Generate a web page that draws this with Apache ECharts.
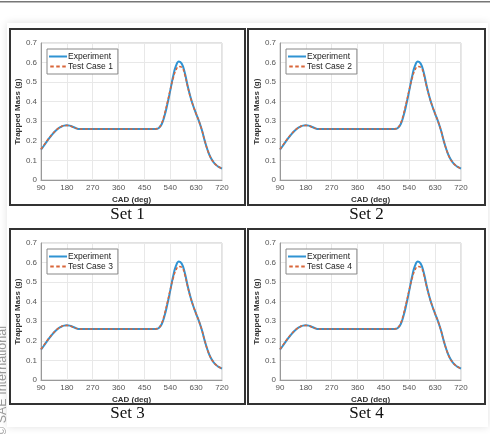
<!DOCTYPE html>
<html>
<head>
<meta charset="utf-8">
<script src="https://cdn.jsdelivr.net/npm/echarts@6/dist/echarts.min.js"></script>
<style>
  html, body { margin: 0; padding: 0; background: #fff; }
  #chart { width: 490px; height: 434px; }
</style>
</head>
<body>
<div id="chart"></div>
<script>
// crank angle (deg)
const cad = [
  90, 100, 110, 120, 130, 140, 150, 160, 170, 180, 190, 200, 210, 220, 230,
  240, 250, 260, 270, 280, 290, 300, 310, 320, 330, 340, 350, 360, 370, 380,
  390, 400, 410, 420, 430, 440, 450, 460, 470, 480, 490, 500, 510, 520, 530,
  540, 550, 560, 570, 580, 590, 600, 610, 620, 630, 640, 650, 660, 670, 680,
  690, 700, 710, 720
];
const experiment = [
  0.155, 0.175, 0.196, 0.216, 0.234, 0.250, 0.263, 0.272, 0.278, 0.280, 0.278, 0.272, 0.266, 0.261, 0.260,
  0.260, 0.260, 0.260, 0.260, 0.260, 0.260, 0.260, 0.260, 0.260, 0.260, 0.260, 0.260, 0.260, 0.260, 0.260,
  0.260, 0.260, 0.260, 0.260, 0.260, 0.260, 0.260, 0.260, 0.260, 0.260, 0.261, 0.266, 0.285, 0.328, 0.388,
  0.458, 0.530, 0.584, 0.605, 0.594, 0.550, 0.484, 0.425, 0.378, 0.338, 0.300, 0.255, 0.200, 0.152, 0.116,
  0.092, 0.076, 0.066, 0.058
];
const testCase = [
  0.157, 0.178, 0.199, 0.219, 0.236, 0.251, 0.264, 0.273, 0.278, 0.279, 0.277, 0.271, 0.265, 0.261, 0.260,
  0.260, 0.260, 0.260, 0.260, 0.260, 0.260, 0.260, 0.260, 0.260, 0.260, 0.260, 0.260, 0.260, 0.260, 0.260,
  0.260, 0.260, 0.260, 0.260, 0.260, 0.260, 0.260, 0.260, 0.260, 0.260, 0.261, 0.267, 0.290, 0.338, 0.398,
  0.462, 0.520, 0.562, 0.580, 0.576, 0.540, 0.480, 0.424, 0.378, 0.338, 0.300, 0.255, 0.200, 0.152, 0.116,
  0.092, 0.076, 0.066, 0.058
];
const xTicks = [90, 180, 270, 360, 450, 540, 630, 720];
const setNames = ["Set 1", "Set 2", "Set 3", "Set 4"];
const caseNames = ["Test Case 1", "Test Case 2", "Test Case 3", "Test Case 4"];

// panel frames: [left, top, right, bottom]
const frames = [[10, 29, 245, 205], [248, 29, 485, 205], [10, 229, 245, 404], [248, 229, 485, 404]];
const plots = [[41, 43], [280, 43], [41, 243], [280, 243]];

// legend glyphs: solid line and dashed line
const solidIcon = "path://M0,0h18v2h-18z";
const dashIcon = "path://M0,0h3.5v2h-3.5z M6,0h3.5v2h-3.5z M12,0h3.5v2h-3.5z";

const chart = echarts.init(document.getElementById("chart"), null, { renderer: "canvas" });

const grids = [], xAxes = [], yAxes = [], series = [], legends = [], graphics = [];

// page decoration
graphics.push({ type: "rect", shape: { x: 0, y: 1, width: 490, height: 1.5 }, style: { fill: "#777" } });
graphics.push({
  type: "rect", shape: { x: 7, y: 23, width: 481, height: 404 },
  style: { fill: "#fff", shadowBlur: 8, shadowColor: "rgba(0,0,0,0.12)" }, z: -1
});
graphics.push({
  type: "text", x: 3, y: 436, rotation: Math.PI / 2,
  style: { text: "© SAE International", fill: "#999", font: "12.5px 'Liberation Sans', Arial", align: "left", verticalAlign: "middle" }
});

for (let i = 0; i < 4; i++) {
  const [fl, ft, fr, fb] = frames[i];
  const [pl, pt] = plots[i];
  graphics.push({
    type: "rect", shape: { x: fl, y: ft, width: fr - fl, height: fb - ft },
    style: { fill: "none", stroke: "#333", lineWidth: 2 }
  });
  graphics.push({
    type: "text", x: (fl + fr) / 2, y: fb + 10,
    style: { text: setNames[i], fill: "#111", font: "17px 'Liberation Serif', 'Times New Roman', serif", align: "center", verticalAlign: "middle" }
  });

  grids.push({
    left: pl, top: pt, width: 181, height: 137,
    show: true, borderColor: "#c4c4c4", borderWidth: 1, backgroundColor: "#fff"
  });
  xAxes.push({
    type: "value", gridIndex: i, min: 90, max: 720, interval: 90,
    name: "CAD (deg)", nameLocation: "middle", nameGap: 16,
    nameTextStyle: { fontSize: 8, fontWeight: "bold", color: "#333", fontFamily: "Liberation Sans" },
    axisLine: { show: true, lineStyle: { color: "#999" } },
    axisTick: { show: false },
    axisLabel: { fontSize: 8, color: "#555", margin: 4, fontFamily: "Liberation Sans",
      formatter: v => (xTicks.includes(v) ? String(v) : "") },
    splitLine: { show: true, lineStyle: { color: "#e8e8e8" } }
  });
  yAxes.push({
    type: "value", gridIndex: i, min: 0, max: 0.7, interval: 0.1,
    name: "Trapped Mass (g)", nameLocation: "middle", nameGap: 19,
    nameTextStyle: { fontSize: 8, fontWeight: "bold", color: "#333", fontFamily: "Liberation Sans" },
    axisLine: { show: true, lineStyle: { color: "#999" } },
    axisTick: { show: false },
    axisLabel: { fontSize: 8, color: "#555", margin: 4, fontFamily: "Liberation Sans",
      formatter: v => (Math.round(v * 10) / 10).toString() },
    splitLine: { show: true, lineStyle: { color: "#e8e8e8" } }
  });

  const expName = "Experiment";
  series.push({
    name: expName, type: "line", xAxisIndex: i, yAxisIndex: i, smooth: true, symbol: "none",
    data: cad.map((c, k) => [c, experiment[k]]),
    lineStyle: { color: "#2f93d3", width: 2 }, itemStyle: { color: "#2f93d3" }, z: 2
  });
  series.push({
    name: caseNames[i], type: "line", xAxisIndex: i, yAxisIndex: i, smooth: true, symbol: "none",
    data: cad.map((c, k) => [c, testCase[k]]),
    lineStyle: { color: "#d9663a", width: 1.5, type: [3, 2] }, itemStyle: { color: "#d9663a" }, z: 3
  });

  legends.push({
    data: [{ name: expName, icon: solidIcon }, { name: caseNames[i], icon: dashIcon }],
    orient: "vertical", left: pl + 6, top: pt + 6,
    itemWidth: 18, itemHeight: 2, itemGap: 1,
    padding: [3, 5, 3, 2],
    borderColor: "#888", borderWidth: 1, backgroundColor: "#fff",
    textStyle: { fontSize: 8.5, color: "#222", fontFamily: "Liberation Sans", padding: [0, 0, 0, -4] },
    selectedMode: false
  });
}

chart.setOption({
  animation: false,
  backgroundColor: "#fff",
  grid: grids,
  xAxis: xAxes,
  yAxis: yAxes,
  legend: legends,
  series: series,
  graphic: graphics
});
</script>
</body>
</html>
